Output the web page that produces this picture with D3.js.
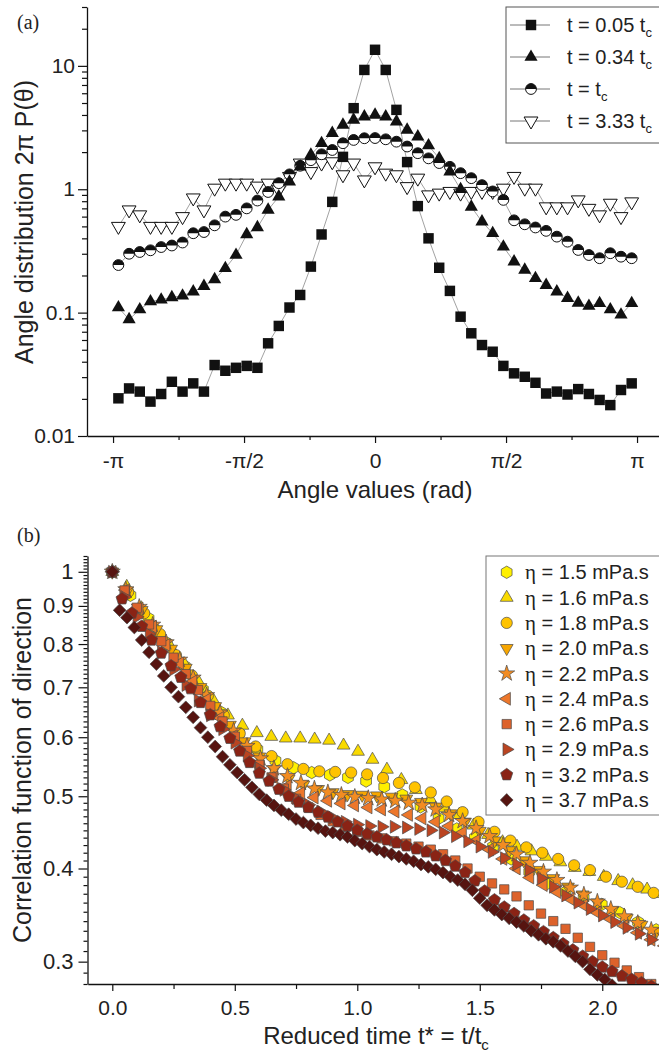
<!DOCTYPE html>
<html>
<head>
<meta charset="utf-8">
<script src="https://cdn.jsdelivr.net/npm/d3@7"></script>
<style>
  body { margin: 0; background: #fff; }
  svg { display: block; }
</style>
</head>
<body>
<svg id="fig" width="659" height="1055"></svg>
<script>
// ---------- panel (a): angle distribution ----------
// bin centres (rad)
const angles = [-3.0775, -2.9493, -2.8211, -2.6928, -2.5646, -2.4364, -2.3082, -2.1799, -2.0517, -1.9235,
  -1.7952, -1.6670, -1.5388, -1.4106, -1.2823, -1.1541, -1.0259, -0.8976, -0.7694, -0.6412,
  -0.5129, -0.3847, -0.2565, -0.1282, 0, 0.1282, 0.2565, 0.3847, 0.5129, 0.6412,
  0.7694, 0.8976, 1.0259, 1.1541, 1.2823, 1.4106, 1.5388, 1.6670, 1.7952, 1.9235,
  2.0517, 2.1799, 2.3082, 2.4364, 2.5646, 2.6928, 2.8211, 2.9493, 3.0775];

const dist005 = [0.0202, 0.0243, 0.0229, 0.019, 0.0219, 0.0275, 0.0229, 0.0267, 0.0229, 0.0376,
  0.0338, 0.0357, 0.037, 0.0357, 0.0564, 0.078, 0.110, 0.139, 0.236, 0.43,
  0.79, 1.83, 4.54, 9.27, 13.5, 9.27, 4.4, 1.66, 0.73, 0.40,
  0.231, 0.150, 0.0927, 0.068, 0.0546, 0.0482, 0.037, 0.0322, 0.0302, 0.027,
  0.0221, 0.0229, 0.0217, 0.024, 0.0219, 0.0196, 0.0178, 0.0236, 0.0267];

const dist034 = [0.110, 0.088, 0.106, 0.123, 0.127, 0.133, 0.137, 0.148, 0.164, 0.186,
  0.229, 0.293, 0.43, 0.49, 0.68, 0.87, 1.15, 1.52, 1.9, 2.36,
  2.85, 3.32, 3.65, 3.88, 4.0, 3.88, 3.53, 3.03, 2.67, 2.26,
  1.78, 1.39, 1.0, 0.72, 0.546, 0.44, 0.342, 0.259, 0.222, 0.19,
  0.167, 0.148, 0.131, 0.12, 0.113, 0.119, 0.106, 0.096, 0.119];

const dist1 = [0.243, 0.30, 0.31, 0.32, 0.34, 0.35, 0.37, 0.44, 0.45, 0.51,
  0.60, 0.62, 0.70, 0.81, 0.95, 1.12, 1.32, 1.55, 1.72, 1.92,
  2.08, 2.36, 2.51, 2.59, 2.6, 2.54, 2.43, 2.22, 1.96, 1.78,
  1.63, 1.52, 1.35, 1.23, 1.08, 0.96, 0.82, 0.56, 0.52, 0.49,
  0.46, 0.413, 0.376, 0.322, 0.293, 0.276, 0.303, 0.284, 0.276];

const dist333 = [0.50, 0.68, 0.62, 0.50, 0.50, 0.50, 0.60, 0.85, 0.68, 1.02,
  1.12, 1.12, 1.12, 1.06, 1.12, 0.99, 1.27, 1.63, 1.39, 1.63,
  1.67, 1.31, 1.63, 1.19, 1.52, 1.35, 1.31, 1.05, 1.23, 0.90,
  0.93, 0.96, 0.93, 0.96, 0.96, 0.96, 1.02, 1.27, 1.02, 1.02,
  0.72, 0.72, 0.72, 0.82, 0.70, 0.62, 0.77, 0.60, 0.79];

const legendA = ["t = 0.05 t", "t = 0.34 t", "t = t", "t = 3.33 t"];
const angleTicks = [-Math.PI, -Math.PI / 2, 0, Math.PI / 2, Math.PI];
const angleLabels = ["-π", "-π/2", "0", "π/2", "π"];

// ---------- panel (b): correlation function ----------
const etaLabels = ["1.5", "1.6", "1.8", "2.0", "2.2", "2.4", "2.6", "2.9", "3.2", "3.7"];
// sampling interval in reduced time for each viscosity
const etaSteps = [0.074, 0.059, 0.065, 0.06, 0.055, 0.055, 0.05, 0.05, 0.04, 0.03];

const corr15 = [1, 0.93, 0.866, 0.803, 0.747, 0.695, 0.648, 0.607, 0.578, 0.558, 0.546, 0.538, 0.534, 0.53, 0.524,
  0.515, 0.502, 0.484, 0.467, 0.452, 0.44, 0.428, 0.412, 0.396, 0.382, 0.372, 0.365, 0.358, 0.349, 0.339, 0.331];
const corr16 = [1, 0.955, 0.894, 0.842, 0.795, 0.752, 0.71, 0.672, 0.642, 0.622, 0.608, 0.601, 0.598, 0.598, 0.596,
  0.594, 0.585, 0.574, 0.56, 0.543, 0.526, 0.51, 0.496, 0.482, 0.472, 0.457, 0.444, 0.434, 0.428, 0.422,
  0.415, 0.408, 0.401, 0.396, 0.39, 0.385, 0.38, 0.375, 0.37];
const corr18 = [1, 0.94, 0.88, 0.825, 0.773, 0.726, 0.682, 0.642, 0.607, 0.583, 0.566, 0.552, 0.544, 0.54, 0.539,
  0.538, 0.535, 0.529, 0.521, 0.514, 0.506, 0.492, 0.476, 0.462, 0.448, 0.436, 0.427, 0.42, 0.412, 0.404,
  0.398, 0.39, 0.384, 0.378, 0.371];
const corr20 = [1, 0.942, 0.888, 0.837, 0.788, 0.743, 0.7, 0.66, 0.623, 0.592, 0.565, 0.543, 0.528, 0.518, 0.511,
  0.506, 0.503, 0.502, 0.501, 0.499, 0.496, 0.491, 0.484, 0.474, 0.462, 0.449, 0.436, 0.423, 0.41, 0.398,
  0.388, 0.378, 0.369, 0.36, 0.351, 0.343, 0.336, 0.329];
const corr22 = [1, 0.947, 0.897, 0.849, 0.804, 0.762, 0.721, 0.683, 0.647, 0.612, 0.584, 0.562, 0.545, 0.532, 0.521,
  0.512, 0.506, 0.502, 0.499, 0.497, 0.495, 0.493, 0.49, 0.486, 0.48, 0.472, 0.463, 0.453, 0.442, 0.43,
  0.418, 0.407, 0.396, 0.386, 0.377, 0.369, 0.361, 0.353, 0.345, 0.338, 0.331, 0.325];
const corr24 = [1, 0.945, 0.893, 0.844, 0.798, 0.754, 0.713, 0.674, 0.637, 0.602, 0.572, 0.548, 0.53, 0.516, 0.505,
  0.498, 0.493, 0.489, 0.486, 0.483, 0.48, 0.477, 0.472, 0.467, 0.462, 0.456, 0.447, 0.436, 0.424, 0.412,
  0.4, 0.389, 0.38, 0.372, 0.364, 0.357, 0.349, 0.342, 0.335, 0.328, 0.321, 0.315];
const corr26 = [1, 0.944, 0.895, 0.85, 0.807, 0.767, 0.729, 0.694, 0.661, 0.63, 0.601, 0.575, 0.551, 0.53, 0.512,
  0.496, 0.483, 0.472, 0.463, 0.455, 0.448, 0.443, 0.439, 0.435, 0.432, 0.428, 0.424, 0.418, 0.41, 0.4,
  0.39, 0.382, 0.375, 0.367, 0.357, 0.348, 0.34, 0.332, 0.323, 0.314, 0.306, 0.299, 0.292, 0.286, 0.28];
const corr29 = [1, 0.925, 0.87, 0.825, 0.78, 0.74, 0.705, 0.672, 0.642, 0.615, 0.59, 0.567, 0.545, 0.526, 0.51,
  0.497, 0.487, 0.477, 0.468, 0.462, 0.458, 0.456, 0.455, 0.455, 0.454, 0.452, 0.45, 0.447, 0.442, 0.435,
  0.428, 0.421, 0.413, 0.405, 0.398, 0.388, 0.378, 0.368, 0.36, 0.353, 0.346, 0.339, 0.333, 0.327, 0.321, 0.316];
const corr32 = [1, 0.92, 0.88, 0.845, 0.81, 0.778, 0.748, 0.722, 0.697, 0.668, 0.643, 0.62, 0.598, 0.575, 0.555,
  0.537, 0.524, 0.511, 0.5, 0.491, 0.483, 0.476, 0.469, 0.462, 0.456, 0.45, 0.445, 0.441, 0.437, 0.433,
  0.429, 0.425, 0.421, 0.416, 0.41, 0.403, 0.395, 0.385, 0.373, 0.363, 0.355, 0.348, 0.341, 0.335, 0.329,
  0.323, 0.317, 0.311, 0.305, 0.3, 0.295, 0.291, 0.287, 0.284, 0.281, 0.278];
const corr37 = [1, 0.888, 0.868, 0.842, 0.81, 0.78, 0.752, 0.725, 0.70, 0.68, 0.658, 0.638, 0.618, 0.60, 0.583,
  0.565, 0.551, 0.538, 0.526, 0.514, 0.503, 0.494, 0.486, 0.479, 0.473, 0.466, 0.461, 0.457, 0.453, 0.449,
  0.447, 0.444, 0.441, 0.436, 0.432, 0.428, 0.424, 0.421, 0.418, 0.415, 0.412, 0.409, 0.405, 0.402, 0.399,
  0.395, 0.39, 0.386, 0.381, 0.374, 0.365, 0.357, 0.352, 0.347, 0.343, 0.339, 0.335, 0.33, 0.326, 0.322,
  0.319, 0.315, 0.31, 0.305, 0.30, 0.293, 0.288, 0.284, 0.279];

const etaColors = ["#FFF000", "#F9DA00", "#FFC300", "#F7A600", "#F28C22", "#ED772B", "#DD622B", "#BA4421", "#8A2315", "#561410"];
const etaShapes = ["hexagon", "triUp", "circle", "triDown", "star", "triLeft", "square", "triRight", "pentagon", "diamond"];
const corrData = [corr15, corr16, corr18, corr20, corr22, corr24, corr26, corr29, corr32, corr37];

const FONT = "'Liberation Sans', Arial, Helvetica, sans-serif";
const SERIF = "'Liberation Serif', 'Times New Roman', serif";
const svg = d3.select("#fig");

// regular polygon path, first vertex at angle rot (degrees)
function poly(n, r, rot) {
  const pts = d3.range(n).map(k => {
    const a = (rot + k * 360 / n) * Math.PI / 180;
    return [r * Math.cos(a), r * Math.sin(a)];
  });
  return "M" + pts.map(p => p[0].toFixed(2) + "," + p[1].toFixed(2)).join("L") + "Z";
}

function shapePath(name) {
  switch (name) {
    case "hexagon": return poly(6, 6.2, -90);
    case "triUp": return poly(3, 7.4, -90);
    case "triDown": return poly(3, 7.4, 90);
    case "triLeft": return poly(3, 7.4, 180);
    case "triRight": return poly(3, 7.4, 0);
    case "square": return poly(4, 6.6, 45);
    case "diamond": return poly(4, 6.4, 0);
    case "pentagon": return poly(5, 6.4, -90);
    case "star": return d3.symbol(d3.symbolStar, 80)();
    default: return d3.symbol(d3.symbolCircle, 100)();
  }
}

function styleAxis(g, size) {
  g.attr("font-family", FONT).attr("font-size", size);
  g.selectAll("path.domain").attr("stroke", "#111").attr("stroke-width", 1.3);
  g.selectAll("line").attr("stroke", "#111").attr("stroke-width", 1.2);
  g.selectAll("text").attr("fill", "#222");
}

// ================= PANEL (a) =================
const xA = d3.scaleLinear().domain([-3.454, 3.405]).range([87, 659]);
const yA = d3.scaleLog().domain([0.01, 30]).range([436, 7]);

const minorA = [];
[0.01, 0.1, 1, 10].forEach(dec => d3.range(2, 10).forEach(m => { if (m * dec <= 30) minorA.push(m * dec); }));

svg.append("g").attr("transform", "translate(87,0)")
  .call(d3.axisLeft(yA).tickValues(minorA).tickSize(5).tickFormat(""))
  .call(g => g.select(".domain").remove())
  .call(g => styleAxis(g, 21));
svg.append("g").attr("transform", "translate(87,0)")
  .call(d3.axisLeft(yA).tickValues([0.01, 0.1, 1, 10]).tickSize(9).tickSizeOuter(0).tickPadding(3)
    .tickFormat(d => ["0.01", "0.1", "1", "10"][[0.01, 0.1, 1, 10].indexOf(d)]))
  .call(g => styleAxis(g, 21));

svg.append("g").attr("transform", "translate(0,436)")
  .call(d3.axisBottom(xA).tickValues([-3 * Math.PI / 4, -Math.PI / 4, Math.PI / 4, 3 * Math.PI / 4]).tickSize(4).tickFormat(""))
  .call(g => g.select(".domain").remove())
  .call(g => styleAxis(g, 21));
svg.append("g").attr("transform", "translate(0,436)")
  .call(d3.axisBottom(xA).tickValues(angleTicks).tickSize(7).tickSizeOuter(0).tickPadding(10)
    .tickFormat((d, i) => angleLabels[i]))
  .call(g => styleAxis(g, 21));

svg.append("text").attr("transform", "translate(33,222) rotate(-90)")
  .attr("text-anchor", "middle").attr("font-family", FONT).attr("font-size", 25).attr("fill", "#222")
  .text("Angle distribution 2π P(θ)");
svg.append("text").attr("x", 375).attr("y", 498)
  .attr("text-anchor", "middle").attr("font-family", FONT).attr("font-size", 24).attr("fill", "#222")
  .text("Angle values (rad)");
svg.append("text").attr("x", 17).attr("y", 29).attr("font-family", SERIF).attr("font-size", 20).attr("fill", "#222").text("(a)");

const lineA = d3.line().x((d, i) => xA(angles[i])).y(d => yA(d));
const plotA = svg.append("g");
[dist333, dist1, dist034, dist005].forEach(s => {
  plotA.append("path").datum(s).attr("d", lineA)
    .attr("fill", "none").attr("stroke", "#8a8a8a").attr("stroke-width", 0.8);
});

function drawMarkerA(g, kind) {
  if (kind === "square") {
    g.append("path").attr("d", poly(4, 7.4, 45)).attr("fill", "#111");
  } else if (kind === "tri") {
    g.append("path").attr("d", poly(3, 7.6, -90)).attr("fill", "#111");
  } else if (kind === "half") {
    g.append("circle").attr("r", 5.4).attr("fill", "#fff").attr("stroke", "#111").attr("stroke-width", 1);
    g.append("path").attr("d", "M-5.4,0A5.4,5.4 0 0 1 5.4,0Z").attr("fill", "#111");
  } else {
    g.append("path").attr("d", poly(3, 8, 90)).attr("fill", "#fff").attr("stroke", "#111").attr("stroke-width", 1);
  }
}

const seriesA = [[dist333, "open"], [dist1, "half"], [dist034, "tri"], [dist005, "square"]];
seriesA.forEach(([vals, kind]) => {
  plotA.append("g").selectAll("g").data(vals).join("g")
    .attr("transform", (d, i) => `translate(${xA(angles[i])},${yA(d)})`)
    .each(function () { drawMarkerA(d3.select(this), kind); });
});

// legend (a)
const legA = svg.append("g");
legA.append("rect").attr("x", 506).attr("y", 7).attr("width", 170).attr("height", 136)
  .attr("fill", "#fff").attr("stroke", "#555").attr("stroke-width", 1);
const legKinds = ["square", "tri", "half", "open"];
legendA.forEach((lab, i) => {
  const y = 25 + i * 32;
  legA.append("line").attr("x1", 510).attr("x2", 550).attr("y1", y).attr("y2", y)
    .attr("stroke", "#777").attr("stroke-width", 1);
  drawMarkerA(legA.append("g").attr("transform", `translate(531,${y})`), legKinds[i]);
  const t = legA.append("text").attr("x", 567).attr("y", y + 7)
    .attr("font-family", FONT).attr("font-size", 20).attr("fill", "#222");
  t.append("tspan").text(lab);
  t.append("tspan").attr("font-size", 13).attr("dy", 5).text("c");
});

// ================= PANEL (b) =================
const xB = d3.scaleLinear().domain([-0.1, 2.25]).range([87.8, 663.5]);
const yB = d3.scaleLog().domain([0.28, 1.05]).range([984, 556]);

const majorB = [0.3, 0.4, 0.5, 0.6, 0.7, 0.8, 0.9, 1];
const minorB = d3.range(28, 106).filter(v => v % 10 !== 0).map(v => v / 100);

svg.append("g").attr("transform", "translate(87.5,0)")
  .call(d3.axisLeft(yB).tickValues(minorB).tickSize(4).tickFormat(""))
  .call(g => g.select(".domain").remove())
  .call(g => styleAxis(g, 22));
svg.append("g").attr("transform", "translate(87.5,0)")
  .call(d3.axisLeft(yB).tickValues(majorB).tickSize(9).tickSizeOuter(0).tickPadding(5)
    .tickFormat(d => d === 1 ? "1" : d3.format(".1f")(d)))
  .call(g => styleAxis(g, 22));

svg.append("g").attr("transform", "translate(0,984)")
  .call(d3.axisBottom(xB).tickValues([0.25, 0.75, 1.25, 1.75]).tickSize(5).tickFormat(""))
  .call(g => g.select(".domain").remove())
  .call(g => styleAxis(g, 21));
svg.append("g").attr("transform", "translate(0,984)")
  .call(d3.axisBottom(xB).tickValues([0, 0.5, 1, 1.5, 2]).tickSize(7).tickSizeOuter(0).tickPadding(9)
    .tickFormat(d3.format(".1f")))
  .call(g => styleAxis(g, 21));

svg.append("text").attr("transform", "translate(31,770) rotate(-90)")
  .attr("text-anchor", "middle").attr("font-family", FONT).attr("font-size", 25).attr("fill", "#222")
  .text("Correlation function of direction");
const xt = svg.append("text").attr("x", 376).attr("y", 1044)
  .attr("text-anchor", "middle").attr("font-family", FONT).attr("font-size", 24).attr("fill", "#222");
xt.append("tspan").text("Reduced time t* = t/t");
xt.append("tspan").attr("font-size", 15).attr("dy", 6).text("c");
svg.append("text").attr("x", 17).attr("y", 542).attr("font-family", SERIF).attr("font-size", 20).attr("fill", "#222").text("(b)");

svg.append("clipPath").attr("id", "clipB").append("rect")
  .attr("x", 88).attr("y", 540).attr("width", 580).attr("height", 444);
const plotB = svg.append("g").attr("clip-path", "url(#clipB)");

corrData.forEach((vals, s) => {
  const pth = shapePath(etaShapes[s]);
  plotB.append("g").selectAll("path").data(vals).join("path")
    .attr("transform", (d, i) => `translate(${xB(i * etaSteps[s])},${yB(d)})`)
    .attr("d", pth)
    .attr("fill", etaColors[s])
    .attr("stroke", "#4a4a4a").attr("stroke-width", 0.7);
});

// legend (b)
const legB = svg.append("g");
legB.append("rect").attr("x", 486).attr("y", 556).attr("width", 190).attr("height", 259)
  .attr("fill", "#fff").attr("stroke", "#777").attr("stroke-width", 1);
etaLabels.forEach((lab, i) => {
  const y = 572.3 + i * 25.3;
  legB.append("path").attr("transform", `translate(506.7,${y})`)
    .attr("d", shapePath(etaShapes[i])).attr("fill", etaColors[i])
    .attr("stroke", "#4a4a4a").attr("stroke-width", 0.7);
  const t = legB.append("text").attr("x", 525).attr("y", y + 7)
    .attr("font-family", FONT).attr("font-size", 20).attr("fill", "#222");
  t.append("tspan").attr("font-family", SERIF).attr("font-size", 21).text("η");
  t.append("tspan").text(" = " + lab + " mPa.s");
});
</script>
</body>
</html>
